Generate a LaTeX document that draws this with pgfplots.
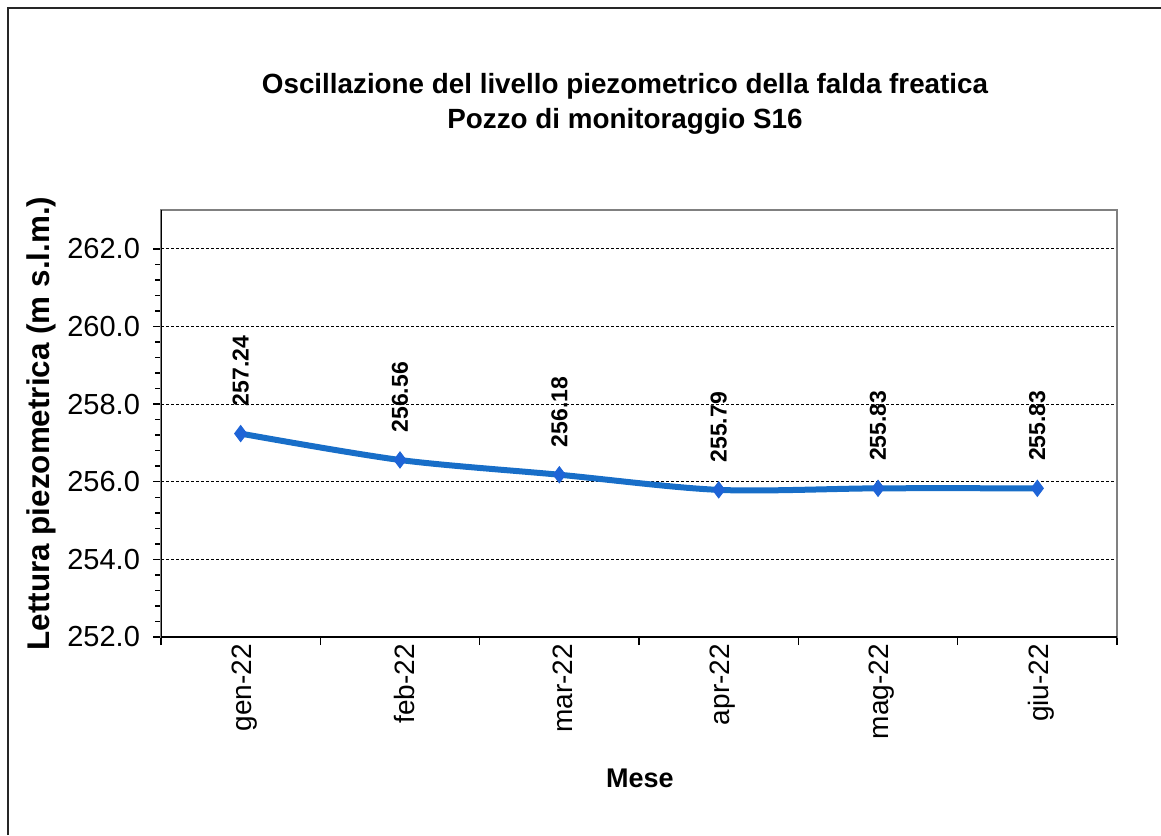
\documentclass[border=0pt]{standalone}
\usepackage{fontspec}
\setmainfont{Liberation Sans}
\usepackage{pgfplots}
\pgfplotsset{compat=1.18}
\definecolor{lineblue}{RGB}{24,110,200}
\definecolor{markblue}{RGB}{30,100,215}
\definecolor{framegray}{RGB}{128,128,128}

\begin{document}
\begin{tikzpicture}
\pgfkeys{/pgf/number format/assume math mode=true}
\useasboundingbox (0,0) rectangle (580.5pt,417.5pt);
% outer chart frame (only left and top edges visible)
\draw[line width=1pt, black!85] (4pt,0) -- (4pt,413.5pt) -- (580.5pt,413.5pt);
\node[font=\fontsize{13.9}{17.5}\selectfont\bfseries, align=center]
  at (312.5pt,365.75pt)
  {Oscillazione del livello piezometrico della falda freatica\\Pozzo di monitoraggio S16};
\begin{axis}[
  at={(80.5pt,99pt)}, anchor=south west,
  scale only axis, width=478pt, height=213.5pt,
  xmin=-0.5, xmax=5.5, ymin=252, ymax=263,
  xtick={-0.5,0.5,1.5,2.5,3.5,4.5,5.5}, xticklabels={},
  extra x ticks={0,1,2,3,4,5},
  extra x tick labels={gen-22,feb-22,mar-22,apr-22,mag-22,giu-22},
  extra x tick style={major tick length=0pt},
  ytick={252,254,256,258,260,262}, minor y tick num=4,
  xtick pos=bottom, ytick pos=left,
  tick align=outside, major tick length=4pt, minor tick length=3pt,
  tick style={black, line width=0.75pt},
  axis line style={framegray, line width=0.75pt},
  ymajorgrids,
  grid style={black, line width=0.5pt, dash pattern=on 1.5pt off 1pt},
  y tick label style={font=\fontsize{14.5}{14.5}\selectfont, xshift=-3pt,
    /pgf/number format/.cd, fixed, fixed zerofill, precision=1},
  x tick label style={font=\fontsize{14}{14}\selectfont, rotate=90, anchor=east, yshift=-2pt},
  xlabel={Mese},
  ylabel={Lettura piezometrica (m s.l.m.)},
  every axis x label/.style={at={(axis description cs:0.501,-0.33)}, anchor=center,
    font=\fontsize{13.5}{13.5}\selectfont\bfseries},
  every axis y label/.style={at={(axis description cs:-0.1255,0.5)}, rotate=90, anchor=center,
    font=\fontsize{15.7}{15.7}\selectfont\bfseries},
]
\addplot[lineblue, line width=3pt, smooth,
  mark=diamond*, mark size=4pt, mark options={markblue, line width=0.5pt, solid},
  nodes near coords={\pgfmathprintnumber[fixed,fixed zerofill,precision=2]{\pgfplotspointmeta}},
  nodes near coords style={font=\fontsize{11.5}{11.5}\selectfont\bfseries, black,
    rotate=90, anchor=west, inner xsep=13.5pt, inner ysep=0pt}]
  coordinates {(0,257.24) (1,256.56) (2,256.18) (3,255.79) (4,255.83) (5,255.83)};
\draw[black, line width=1pt] (rel axis cs:0,1) -- (rel axis cs:0,0) -- (rel axis cs:1,0);
\end{axis}
\end{tikzpicture}
\end{document}
